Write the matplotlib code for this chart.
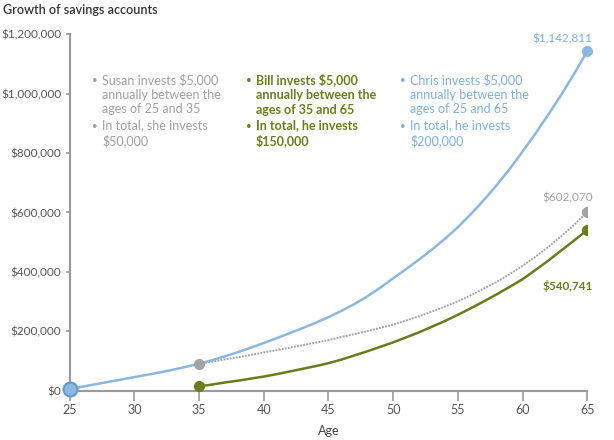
import numpy as np
import matplotlib
matplotlib.use("Agg")
import matplotlib.pyplot as plt
from matplotlib.ticker import FuncFormatter

plt.rcParams['font.family'] = ['Lato', 'DejaVu Sans']

# Значения (в тысячах долларов)
ages_chris = list(range(25, 66))
chris = [5, 13, 21, 29, 37, 45, 53, 61, 70, 80,
         90, 102, 115, 129, 144, 160, 176, 193, 210, 228,
         247, 268, 291, 317, 346, 378, 409, 441, 475, 511,
         550, 594, 641, 692, 746, 805, 866, 930, 997, 1068,
         1142.811]

ages_late = list(range(35, 66))
susan = [90, 97, 105, 112, 120, 128, 136, 144, 153, 161,
         170, 180, 190, 200, 211, 222, 236, 250, 266, 283,
         300, 321, 343, 366, 392, 420, 451, 484, 520, 559,
         602.070]
bill = [14, 20, 27, 33, 40, 47, 55, 64, 73, 82,
        92, 104, 118, 132, 147, 162, 179, 196, 215, 234,
        255, 277, 300, 324, 349, 375, 406, 438, 472, 506,
        540.741]

x_ticks = [25, 30, 35, 40, 45, 50, 55, 60, 65]
y_ticks = [0, 200000, 400000, 600000, 800000, 1000000, 1200000]

notes = [
    ("Susan invests $5,000\nannually between the\nages of 25 and 35", "In total, she invests\n$50,000"),
    ("Bill invests $5,000\nannually between the\nages of 35 and 65", "In total, he invests\n$150,000"),
    ("Chris invests $5,000\nannually between the\nages of 25 and 65", "In total, he invests\n$200,000"),
]

BLUE = "#8cb8e0"
BLUE_TXT = "#7db0de"
GRAY = "#a3a3a3"
GRAY_TXT = "#a0a0a0"
GREEN = "#6b7c1c"
AXIS = "#9a9a9a"

chris_d = np.array(chris) * 1000
susan_d = np.array(susan) * 1000
bill_d = np.array(bill) * 1000

fig = plt.figure(figsize=(6.14, 4.4), dpi=100)
ax = fig.add_axes([0.1132, 0.1125, 0.8433, 0.8095])

ax.plot(ages_chris, chris_d, color=BLUE, lw=1.8, zorder=3, solid_capstyle='round')
ax.plot(ages_late, susan_d, color=GRAY, lw=1.4, ls=(0, (1, 0.6)), zorder=2)
ax.plot(ages_late, bill_d, color=GREEN, lw=1.8, zorder=3)

# точки
ax.plot(ages_chris[0], chris_d[0], 'o', ms=10, mfc=BLUE, mec="#5f9bd3", mew=1.5, zorder=5, clip_on=False)
ax.plot(ages_chris[-1], chris_d[-1], 'o', ms=7, color=BLUE, zorder=5, clip_on=False)
ax.plot(ages_late[0], susan_d[0], 'o', ms=7, color=GRAY, zorder=5)
ax.plot(ages_late[-1], susan_d[-1], 'o', ms=7, color=GRAY, zorder=5)
ax.plot(ages_late[0], bill_d[0], 'o', ms=7, color=GREEN, zorder=5)
ax.plot(ages_late[-1], bill_d[-1], 'o', ms=7, color=GREEN, zorder=5)

ax.annotate(f"${chris_d[-1]:,.0f}", (ages_chris[-1], chris_d[-1]), xytext=(4, 5),
            textcoords='offset points', ha='right', va='bottom', color=BLUE_TXT, fontsize=8.5)
ax.annotate(f"${susan_d[-1]:,.0f}", (ages_late[-1], susan_d[-1]), xytext=(4, 6),
            textcoords='offset points', ha='right', va='bottom', color=GRAY_TXT, fontsize=8.5)
ax.annotate(f"${bill_d[-1]:,.0f}", (ages_late[-1], bill_d[-1]), xytext=(4, -40),
            textcoords='offset points', ha='right', va='center', color=GREEN, fontsize=8.5,
            fontweight='bold')

ax.set_xlim(25, 65)
ax.set_ylim(0, 1200000)
ax.set_xticks(x_ticks)
ax.set_yticks(y_ticks)
ax.yaxis.set_major_formatter(FuncFormatter(lambda v, p: f"${v:,.0f}"))
for s in ['top', 'right']:
    ax.spines[s].set_visible(False)
for s in ['left', 'bottom']:
    ax.spines[s].set_color(AXIS)
    ax.spines[s].set_linewidth(1.5)
ax.tick_params(axis='x', length=7, width=1.2, color=AXIS, labelcolor="#555555", labelsize=9, pad=3)
ax.tick_params(axis='y', length=3, width=1.2, color=AXIS, labelcolor="#555555", labelsize=8.5, pad=3)
ax.set_xlabel("Age", color="#444444", fontsize=9, labelpad=6)

fig.text(3 / 614, 1 - 10 / 440, "Growth of savings accounts", fontsize=9, color="#333333",
         va='center', ha='left', fontweight='semibold')

# блоки пояснений
cols = [(92, GRAY_TXT, 'normal'), (246, GREEN, 'bold'), (400, BLUE_TXT, 'normal')]
for (x0, c, w), (t1, t2) in zip(cols, notes):
    for y0, t in [(73, t1), (119, t2)]:
        fig.text(x0 / 614, 1 - (y0 + 7) / 440, "•", color=c, fontsize=7, va='center', ha='left')
        fig.text((x0 + 10) / 614, 1 - y0 / 440, t, color=c, fontsize=9, va='top', ha='left',
                 fontweight=w, linespacing=1.28)

fig.savefig("out.png", dpi=100)
